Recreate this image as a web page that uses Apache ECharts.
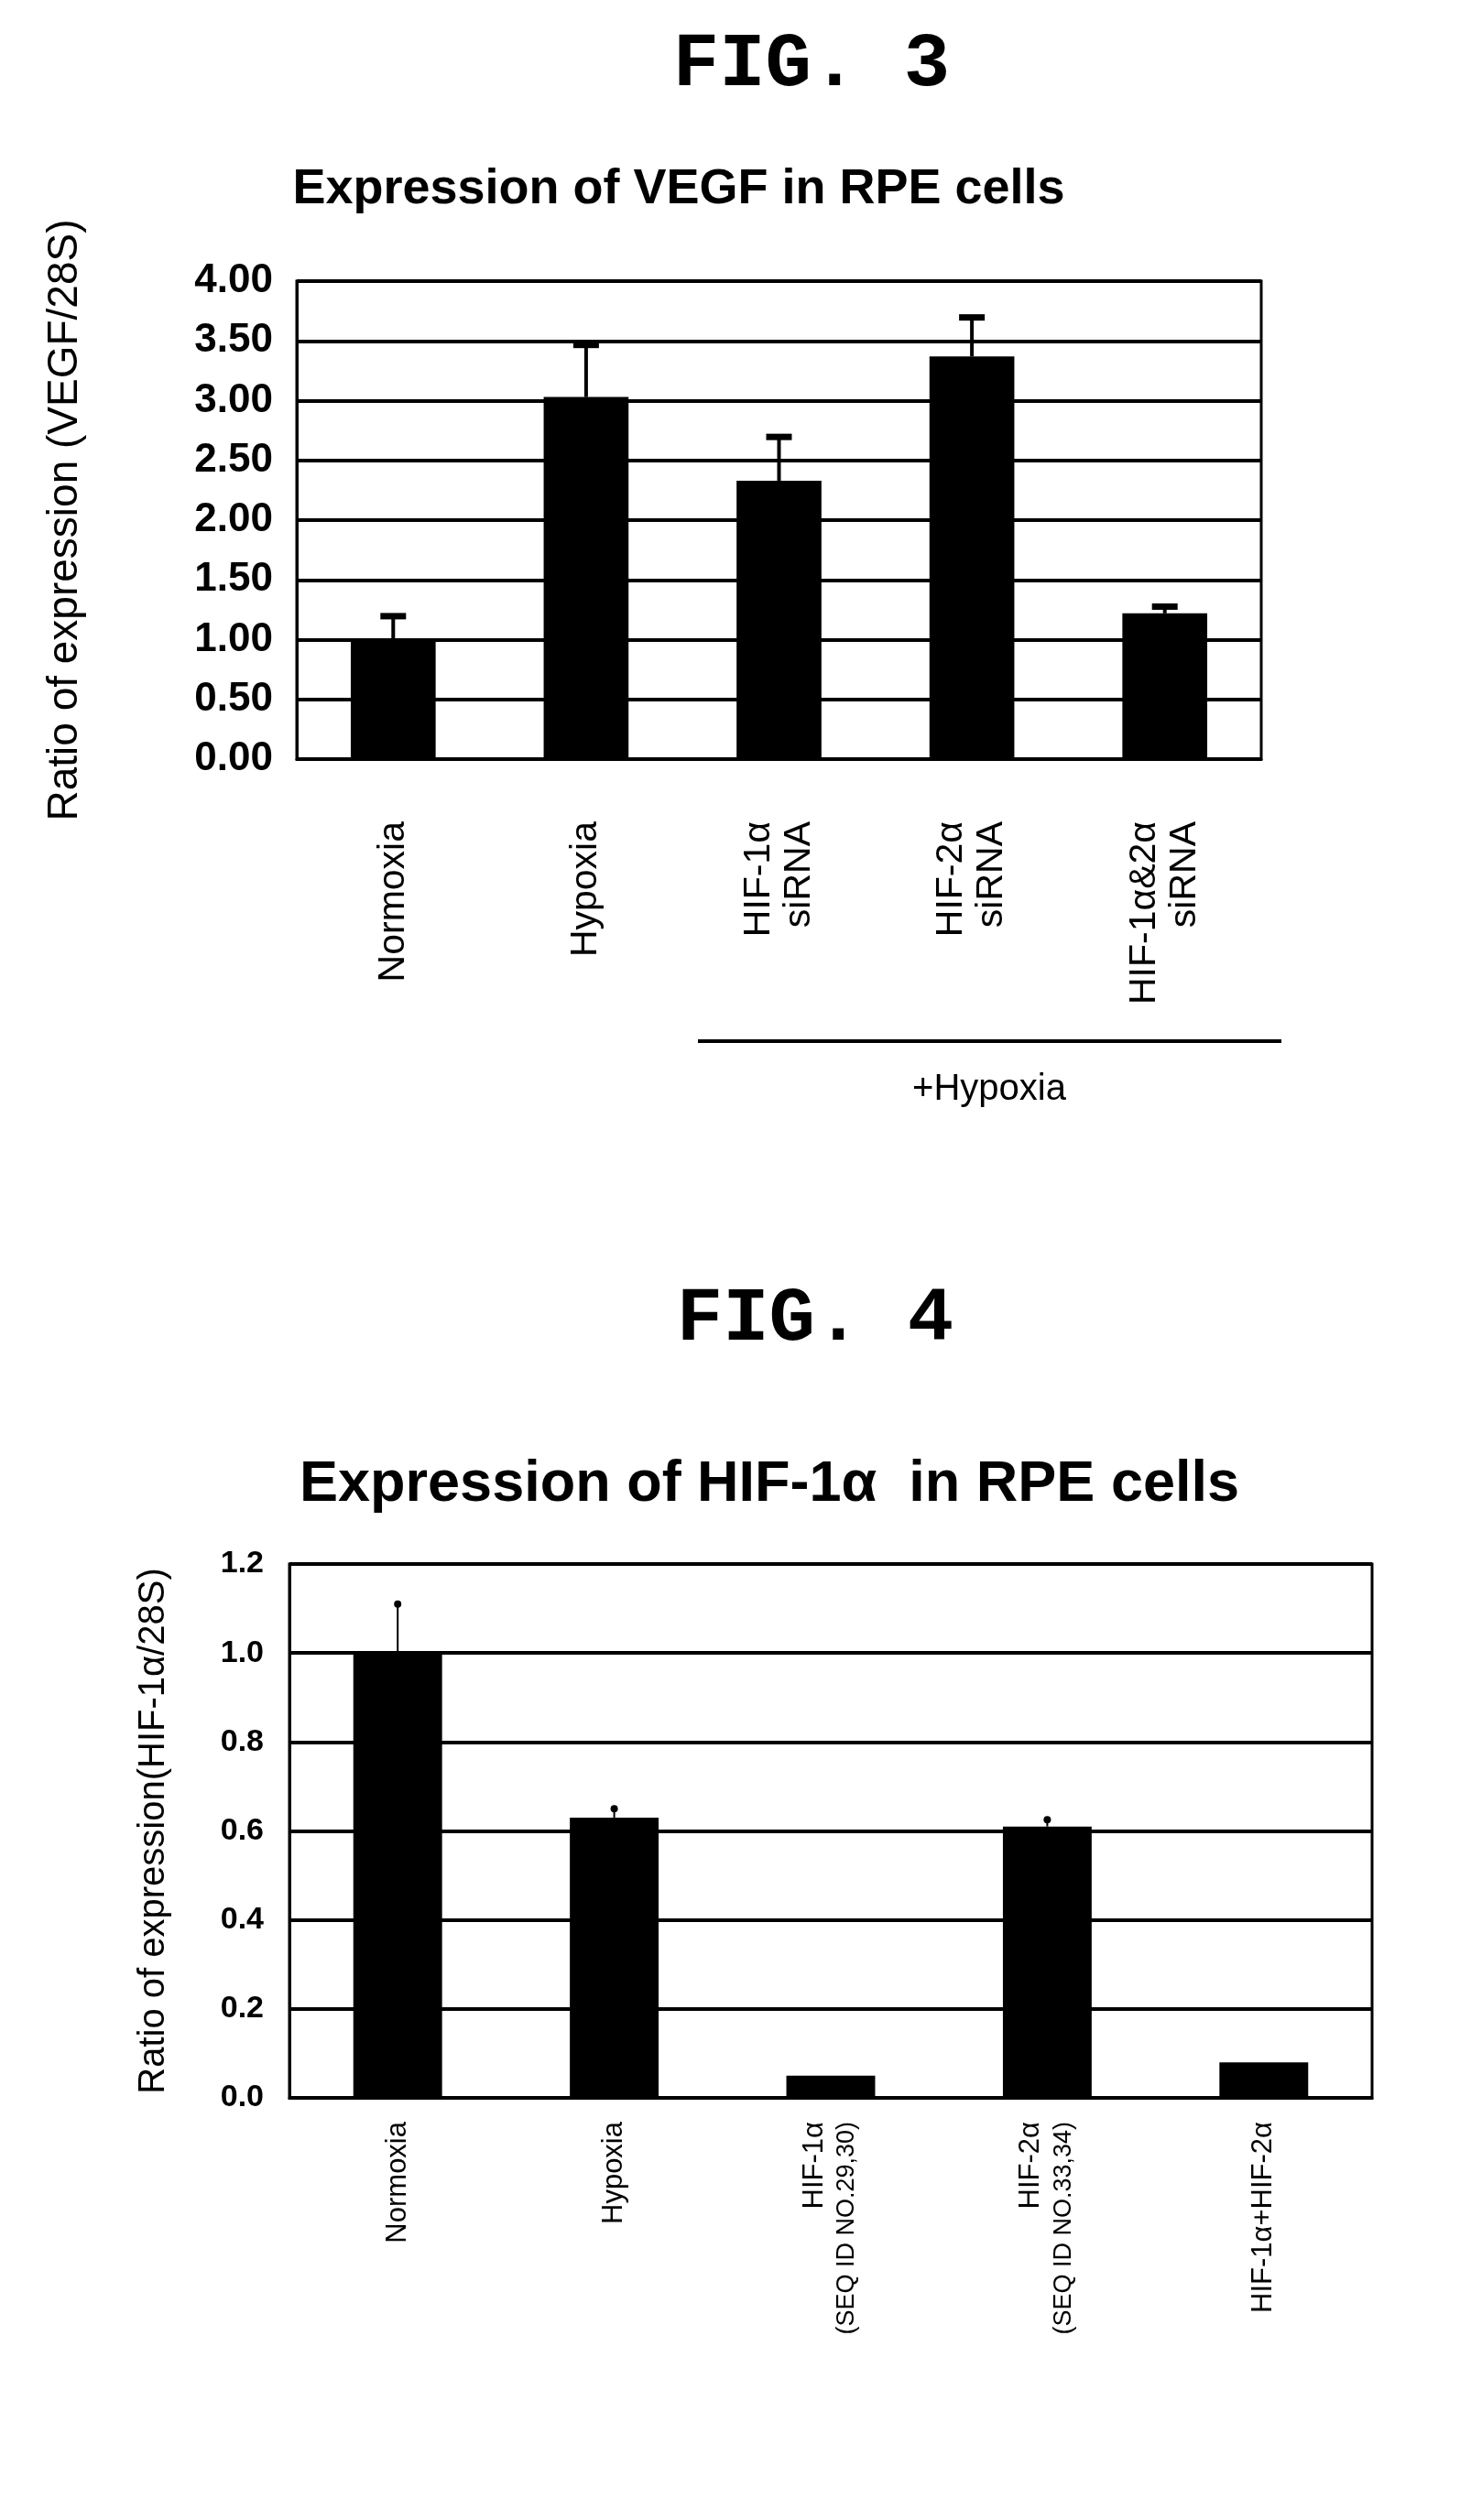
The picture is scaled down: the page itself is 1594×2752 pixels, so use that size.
<!DOCTYPE html>
<html><head><meta charset="utf-8">
<script src="https://cdn.jsdelivr.net/npm/echarts@6/dist/echarts.min.js"></script>
<style>html,body{margin:0;padding:0;background:#fff}#c{width:1594px;height:2752px}</style>
</head><body><div id="c"></div>
<script>
const cats1 = ['Normoxia','Hypoxia','HIF-1α\nsiRNA','HIF-2α\nsiRNA','HIF-1α&2α\nsiRNA'];
const vals1 = [1.01, 3.03, 2.33, 3.37, 1.22];
const errTop1 = [1.20, 3.47, 2.70, 3.70, 1.28];
const ticks1 = ['0.00','0.50','1.00','1.50','2.00','2.50','3.00','3.50','4.00'];

const cats2 = ['Normoxia','Hypoxia','HIF-1α\n{s|(SEQ ID NO.29,30)}','HIF-2α\n{s|(SEQ ID NO.33,34)}','HIF-1α+HIF-2α'];
const vals2 = [1.00, 0.63, 0.05, 0.61, 0.08];
const errTop2 = [1.11, 0.65, null, 0.625, null];

const F = '"Liberation Sans Narrow","Liberation Sans",Arial,sans-serif';
const chart = echarts.init(document.getElementById('c'));

function errSeries(idx, vals, tops, capType){
  return {
    type:'custom', xAxisIndex:idx, yAxisIndex:idx, z:5,
    data: vals.map((v,i)=>[i, v, tops[i]]),
    renderItem:(params, api)=>{
      const top = api.value(2);
      if (top === null || isNaN(top)) return null;
      const p0 = api.coord([api.value(0), api.value(1)]);
      const p1 = api.coord([api.value(0), top]);
      const children = [{type:'line', shape:{x1:p0[0],y1:p0[1],x2:p1[0],y2:p1[1]}, style:{stroke:'#000', lineWidth:capType==='bar'?4:2}}];
      if (capType==='bar') children.push({type:'rect', shape:{x:p1[0]-14,y:p1[1]-3,width:28,height:7}, style:{fill:'#000'}});
      else children.push({type:'circle', shape:{cx:p1[0],cy:p1[1],r:4}, style:{fill:'#000'}});
      return {type:'group', children};
    }
  };
}

chart.setOption({
  animation:false,
  backgroundColor:'#fff',
  grid:[
    {left:324, top:307, width:1053, height:522, show:true, borderColor:'#000', borderWidth:3, backgroundColor:'#fff'},
    {left:316, top:1708, width:1182, height:583, show:true, borderColor:'#000', borderWidth:3, backgroundColor:'#fff'}
  ],
  xAxis:[
    {type:'category', gridIndex:0, data:cats1,
     axisLine:{lineStyle:{color:'#000',width:3}},
     axisTick:{inside:true, length:14, lineStyle:{color:'#000',width:2}},
     axisLabel:{rotate:90, color:'#000', fontFamily:'Arial, "Liberation Sans"', fontSize:41, lineHeight:44, margin:68}},
    {type:'category', gridIndex:1, data:cats2,
     axisLine:{lineStyle:{color:'#000',width:3}},
     axisTick:{inside:true, length:12, lineStyle:{color:'#000',width:2}},
     axisLabel:{rotate:90, color:'#000', fontFamily:F, fontSize:31, lineHeight:36, margin:26,
       rich:{s:{fontSize:27, fontFamily:F, color:'#000'}}}}
  ],
  yAxis:[
    {type:'value', gridIndex:0, min:0, max:4, interval:0.5,
     name:'Ratio of expression (VEGF/28S)', nameLocation:'middle', nameGap:230, nameRotate:90,
     nameTextStyle:{color:'#000', fontSize:46, fontFamily:'Arial, "Liberation Sans"'},
     axisLine:{show:true, lineStyle:{color:'#000',width:3}}, axisTick:{show:false},
     splitLine:{lineStyle:{color:'#000', width:4}},
     axisLabel:{color:'#000', fontSize:44, fontWeight:'bold', fontFamily:F, margin:26, formatter:(v)=>ticks1[Math.round(v/0.5)]}},
    {type:'value', gridIndex:1, min:0, max:1.2, interval:0.2,
     name:'Ratio of expression(HIF-1α/28S)', nameLocation:'middle', nameGap:128, nameRotate:90,
     nameTextStyle:{color:'#000', fontSize:40, fontFamily:F},
     axisLine:{show:true, lineStyle:{color:'#000',width:3}}, axisTick:{show:false},
     splitLine:{lineStyle:{color:'#000', width:4}},
     axisLabel:{color:'#000', fontSize:34, fontWeight:'bold', fontFamily:F, margin:28, formatter:(v)=>v.toFixed(1)}}
  ],
  series:[
    {type:'bar', xAxisIndex:0, yAxisIndex:0, data:vals1, barWidth:'44%', itemStyle:{color:'#000'}},
    errSeries(0, vals1, errTop1, 'bar'),
    {type:'bar', xAxisIndex:1, yAxisIndex:1, data:vals2, barWidth:'41%', itemStyle:{color:'#000'}},
    errSeries(1, vals2, errTop2, 'dot')
  ],
  graphic:[
    {type:'text', x:886, y:30, style:{text:'FIG. 3', font:'bold 84px "Liberation Mono", "DejaVu Sans Mono", monospace', fill:'#000', textAlign:'center'}},
    {type:'text', x:741, y:180, style:{text:'Expression of VEGF in RPE cells', font:'bold 54px Arial, "Liberation Sans"', fill:'#000', textAlign:'center'}},
    {type:'line', shape:{x1:762,y1:1137,x2:1399,y2:1137}, style:{stroke:'#000', lineWidth:4}},
    {type:'text', x:1080, y:1170, style:{text:'+Hypoxia', font:'40px Arial, "Liberation Sans"', fill:'#000', textAlign:'center'}},
    {type:'text', x:890, y:1400, style:{text:'FIG. 4', font:'bold 84px "Liberation Mono", "DejaVu Sans Mono", monospace', fill:'#000', textAlign:'center'}},
    {type:'text', x:840, y:1590, style:{text:'Expression of HIF-1α  in RPE cells', font:'bold 63px Arial, "Liberation Sans"', fill:'#000', textAlign:'center'}}
  ]
});
</script></body></html>
